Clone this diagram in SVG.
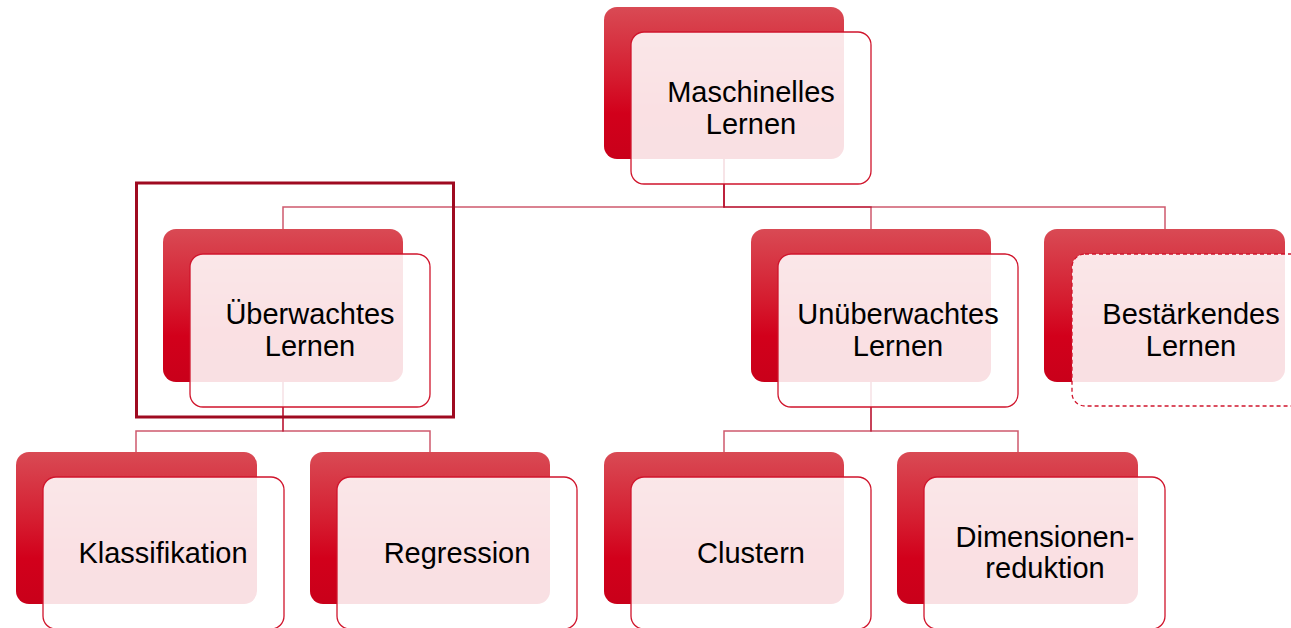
<svg xmlns="http://www.w3.org/2000/svg" width="1291" height="628" viewBox="0 0 1291 628">
<defs>
<linearGradient id="rg" x1="0" y1="0" x2="0" y2="1">
<stop offset="0" stop-color="#d94a54"/>
<stop offset="0.45" stop-color="#d51d30"/>
<stop offset="0.7" stop-color="#d2001b"/>
<stop offset="1" stop-color="#c9001a"/>
</linearGradient>
<style>
.back{fill:url(#rg);}
.front{fill:#ffffff;fill-opacity:0.88;stroke:#d0152c;stroke-width:1.3;}
.dash{stroke-dasharray:4 3;}
.conn{fill:none;stroke:#b3001e;stroke-opacity:0.65;stroke-width:1.5;}
.lbl{font-family:"Liberation Sans",Arial,sans-serif;font-size:29px;fill:#000;text-anchor:middle;}
</style>
</defs>
<rect width="1291" height="628" fill="#ffffff"/>
<g id="connectors">
<path class="conn" d="M724 159 V207 H283 V229"/>
<path class="conn" d="M724 159 V207 H871 V229"/>
<path class="conn" d="M724 159 V207 H1165 V229"/>
<path class="conn" d="M283 382 V431 H136 V452"/>
<path class="conn" d="M283 382 V431 H430 V452"/>
<path class="conn" d="M871 382 V431 H724 V452"/>
<path class="conn" d="M871 382 V431 H1018 V452"/>
</g>
<g id="node-root">
<rect class="back" x="604" y="7" width="240" height="152" rx="13"/>
<rect class="front" x="631" y="32" width="240" height="152" rx="13"/>
<text class="lbl" x="751" y="102">Maschinelles</text>
<text class="lbl" x="751" y="134">Lernen</text>
</g>
<g id="node-ueberwacht">
<rect class="back" x="163" y="229" width="240" height="153" rx="13"/>
<rect class="front" x="190" y="254" width="240" height="153" rx="13"/>
<text class="lbl" x="310" y="324">Überwachtes</text>
<text class="lbl" x="310" y="356">Lernen</text>
</g>
<g id="highlight">
<rect x="136.5" y="183" width="317" height="234" fill="none" stroke="#9f0a20" stroke-width="3"/>
</g>
<g id="node-unueberwacht">
<rect class="back" x="751" y="229" width="240" height="153" rx="13"/>
<rect class="front" x="778" y="254" width="240" height="153" rx="13"/>
<text class="lbl" x="898" y="324">Unüberwachtes</text>
<text class="lbl" x="898" y="356">Lernen</text>
</g>
<g id="node-bestaerkend">
<rect class="back" x="1044" y="229" width="241" height="153" rx="13"/>
<rect class="front dash" x="1072" y="254" width="240" height="152" rx="13"/>
<text class="lbl" x="1191" y="324">Bestärkendes</text>
<text class="lbl" x="1191" y="356">Lernen</text>
</g>
<g id="node-klassifikation">
<rect class="back" x="16" y="452" width="241" height="152" rx="13"/>
<rect class="front" x="43" y="477" width="241" height="152" rx="13"/>
<text class="lbl" x="163" y="563">Klassifikation</text>
</g>
<g id="node-regression">
<rect class="back" x="310" y="452" width="240" height="152" rx="13"/>
<rect class="front" x="337" y="477" width="240" height="152" rx="13"/>
<text class="lbl" x="457" y="563">Regression</text>
</g>
<g id="node-clustern">
<rect class="back" x="604" y="452" width="240" height="152" rx="13"/>
<rect class="front" x="631" y="477" width="240" height="152" rx="13"/>
<text class="lbl" x="751" y="563">Clustern</text>
</g>
<g id="node-dimred">
<rect class="back" x="897" y="452" width="241" height="152" rx="13"/>
<rect class="front" x="924" y="477" width="241" height="152" rx="13"/>
<text class="lbl" x="1045" y="547">Dimensionen-</text>
<text class="lbl" x="1045" y="578">reduktion</text>
</g>
</svg>
